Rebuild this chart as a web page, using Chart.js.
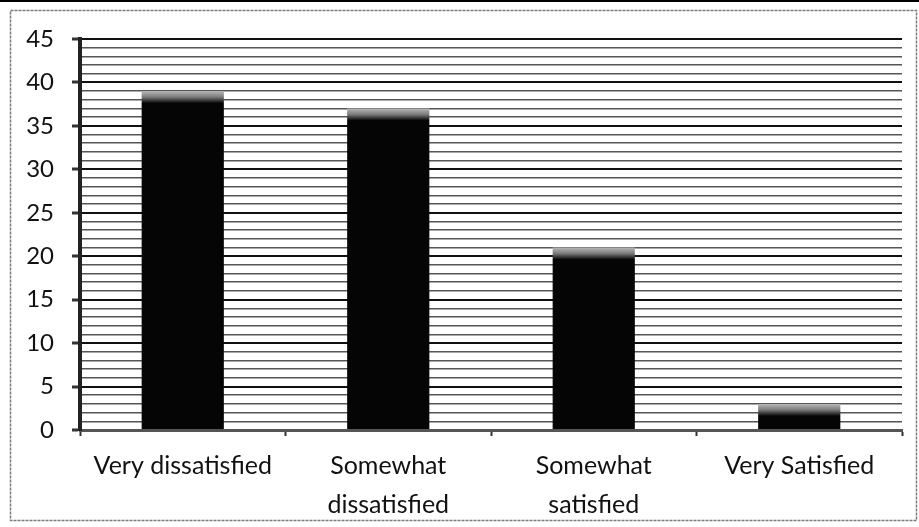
<!DOCTYPE html>
<html>
<head>
<meta charset="utf-8">
<script src="https://cdn.jsdelivr.net/npm/chart.js@4.4.1/dist/chart.umd.min.js"></script>
<style>
  html, body { margin: 0; padding: 0; background: #ffffff; }
  #wrap { position: relative; width: 919px; height: 527px; }
</style>
</head>
<body>
<div id="wrap"><canvas id="c" width="919" height="527"></canvas></div>
<script>
const categories = [
  'Very dissatisfied',
  ['Somewhat', 'dissatisfied'],
  ['Somewhat', 'satisfied'],
  'Very Satisfied'
];
const values = [39, 37, 21, 3];
const yMin = 0;
const yMax = 45;
const yMajorStep = 5;

const framePlugin = {
  id: 'frame',
  afterDraw(chart) {
    const ctx = chart.ctx;
    ctx.save();
    ctx.strokeStyle = '#7a7a7a';
    ctx.lineWidth = 1.5;
    ctx.setLineDash([3, 1]);
    ctx.strokeRect(10.5, 10.5, 906, 510);
    ctx.setLineDash([]);
    ctx.fillStyle = '#000';
    ctx.fillRect(0, 0, 919, 2);
    ctx.restore();
  }
};

function barFill(context) {
  const chart = context.chart;
  const area = chart.chartArea;
  if (!area) return '#000';
  const v = context.raw;
  const y = chart.scales.y.getPixelForValue(v);
  const g = chart.ctx.createLinearGradient(0, y, 0, y + 12);
  g.addColorStop(0, '#b8b8b8');
  g.addColorStop(0.5, '#7a7a7a');
  g.addColorStop(1, '#050505');
  return g;
}

new Chart(document.getElementById('c'), {
  type: 'bar',
  data: {
    labels: categories,
    datasets: [{
      data: values,
      backgroundColor: barFill,
      borderWidth: 0,
      barPercentage: 0.4,
      categoryPercentage: 1.0
    }]
  },
  options: {
    responsive: false,
    animation: false,
    devicePixelRatio: 1,
    layout: { padding: { left: 10, right: 17, top: 39, bottom: 3 } },
    plugins: {
      legend: { display: false },
      tooltip: { enabled: false }
    },
    scales: {
      x: {
        afterFit(scale) { scale.height = 94; },
        grid: {
          display: true,
          drawOnChartArea: false,
          drawTicks: true,
          tickLength: 6,
          tickColor: '#333',
          tickWidth: 2,
          offset: true
        },
        border: { display: true, color: '#555', width: 3, dash: [2, 1] },
        ticks: {
          color: '#111',
          padding: 10,
          font: { family: 'Lato', size: 25, lineHeight: 1.56 },
          maxRotation: 0,
          autoSkip: false
        }
      },
      y: {
        min: yMin,
        max: yMax,
        afterFit(scale) { scale.width = 70; },
        grid: {
          color: (ctx) => (ctx.tick && ctx.tick.value % yMajorStep === 0) ? '#111' : '#555',
          lineWidth: (ctx) => (ctx.tick && ctx.tick.value % yMajorStep === 0) ? 2 : 1.6,
          tickColor: (ctx) => (ctx.tick && ctx.tick.value % yMajorStep === 0) ? '#333' : 'rgba(0,0,0,0)',
          tickLength: 8,
          tickWidth: 3
        },
        border: { display: true, color: '#222', width: 4 },
        ticks: {
          stepSize: 1,
          autoSkip: false,
          color: '#111',
          padding: 18,
          font: { family: 'Lato', size: 24 },
          callback: (v) => (v % yMajorStep === 0 ? String(v) : '')
        }
      }
    }
  },
  plugins: [framePlugin]
});
</script>
</body>
</html>
